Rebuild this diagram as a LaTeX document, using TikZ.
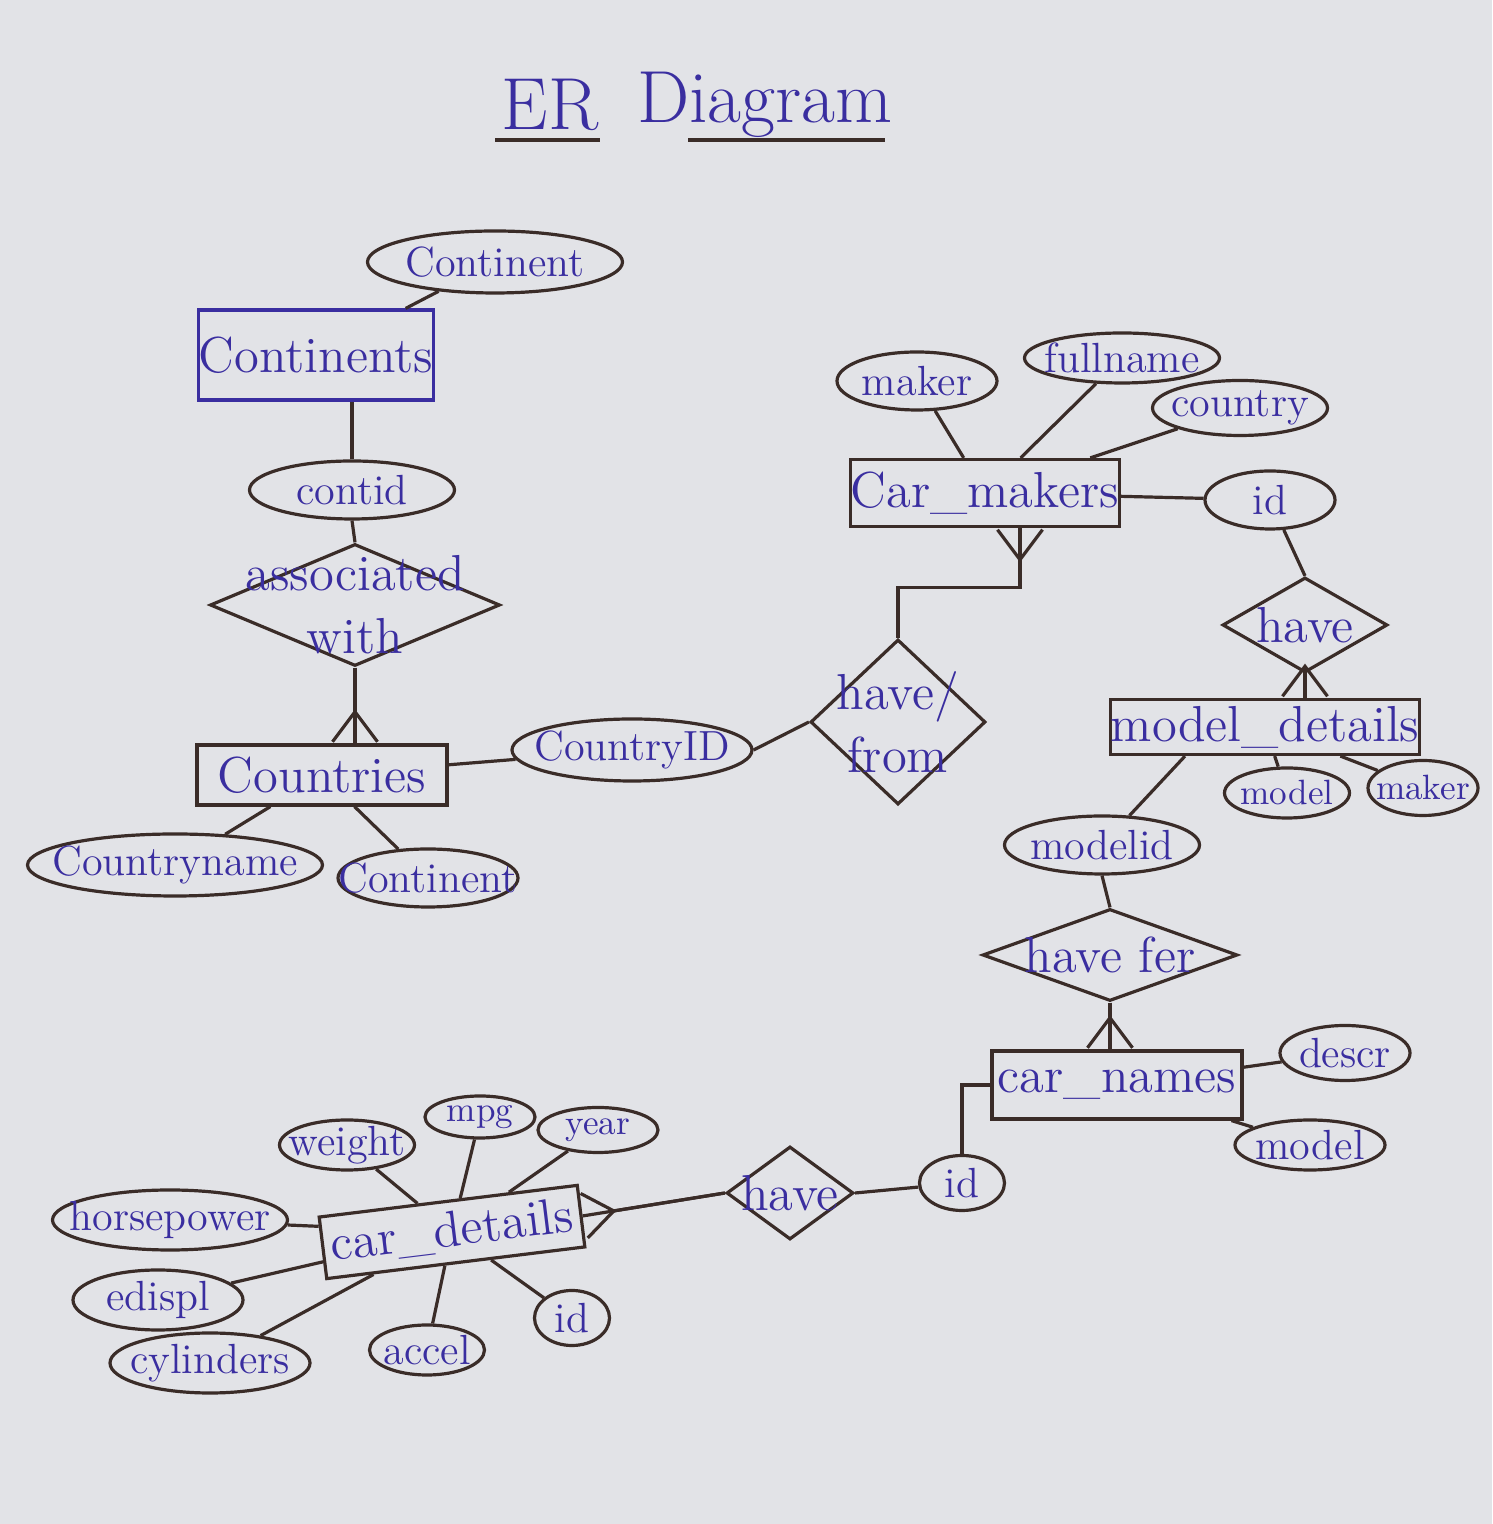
\documentclass[tikz,border=0pt]{standalone}
\usetikzlibrary{shapes.geometric,arrows.meta}
\definecolor{inkblue}{RGB}{58,46,160}
\definecolor{penline}{RGB}{58,44,40}
\definecolor{paper}{RGB}{226,227,231}
\begin{document}
\begin{tikzpicture}[
    dims/.style 2 args={minimum width=#1cm, minimum height=#2cm},
    every label/.style={text=inkblue, align=center},
    entity/.style={rectangle, draw=penline, line width=0.032cm, text=inkblue, inner sep=0pt},
    attrshape/.style={ellipse, draw=penline, line width=0.032cm, inner sep=0pt},
    attribute/.style={attrshape, label={[font=\large]center:#1}},
    smallattr/.style={attrshape, label={[font=\normalsize]center:#1}},
    relation/.style={diamond, draw=penline, line width=0.032cm, inner sep=0pt, label={center:#1}},
    link/.style={draw=penline, line width=0.032cm},
    many/.style={postaction={draw=penline, line width=0.032cm, -{Straight Barb[reversed, length=0.3cm, width=0.45cm]}}}
  ]
                    % Paper
                    \useasboundingbox (0,0) rectangle (14.92,15.24);
                    \fill [paper] (0,0) rectangle (14.92,15.24);%
                    {\Large

                    % Marking title
                    \node [text=inkblue, font=\fontsize{21}{25}\selectfont] (erword) at (5.50,14.19) {ER};%
                    \node [text=inkblue, font=\fontsize{21}{25}\selectfont] (diagword) at (7.65,14.19) {Diagram};%
                    \draw [link] (4.95,13.84) -- (6.00,13.84);%
                    \draw [link] (6.88,13.84) -- (8.85,13.84);%

                    % Drawing entity Continents
                    \node [entity, draw=inkblue, dims={2.32}{0.90}] (continents) at (3.16,11.69) {Continents};%
                    \node [attribute=Continent, dims={2.55}{0.62}] (contA) at (4.95,12.62) {};%
                    \node [attribute=contid, dims={2.05}{0.58}] (contid) at (3.52,10.34) {};%

                    % Drawing relation associated with
                    \node [relation={associated\\with}, dims={2.90}{1.22}] (assoc) at (3.55,9.19) {};%

                    % Drawing entity Countries
                    \node [entity, dims={2.50}{0.60}] (countries) at (3.22,7.49) {Countries};%
                    \node [attribute=Countryname, dims={2.95}{0.62}] (countryname) at (1.75,6.59) {};%
                    \node [attribute=Continent, dims={1.80}{0.58}] (contB) at (4.28,6.46) {};%
                    \node [attribute=CountryID, dims={2.40}{0.62}] (countryid) at (6.32,7.74) {};%

                    % Drawing relation have/from
                    \node [relation={have/\\from}, dims={1.75}{1.65}] (havefrom) at (8.98,8.02) {};%

                    % Drawing entity Car_makers
                    \node [entity, dims={2.62}{0.67}] (carmakers) at (9.85,10.31) {Car\_makers};%
                    \node [attribute=maker, dims={1.60}{0.58}] (makerA) at (9.17,11.43) {};%
                    \node [attribute=fullname, dims={1.95}{0.50}] (fullname) at (11.22,11.66) {};%
                    \node [attribute=country, dims={1.75}{0.55}] (country) at (12.40,11.16) {};%
                    \node [attribute=id, dims={1.30}{0.58}] (idA) at (12.70,10.24) {};%

                    % Drawing relation have
                    \node [relation=have, dims={1.65}{0.95}] (haveA) at (13.05,8.99) {};%

                    % Drawing entity model_details
                    \node [entity, dims={2.76}{0.55}] (modeldetails) at (12.65,7.97) {model\_details};%
                    \node [smallattr=model, dims={1.25}{0.50}] (modelA) at (12.87,7.31) {};%
                    \node [smallattr=maker, dims={1.10}{0.55}] (makerB) at (14.23,7.36) {};%
                    \node [attribute=modelid, dims={1.95}{0.58}] (modelid) at (11.02,6.79) {};%

                    % Drawing relation have fer
                    \node [relation={have fer}, dims={2.55}{0.92}] (havefor) at (11.10,5.69) {};%

                    % Drawing entity car_names
                    \node [entity, dims={2.50}{0.68}] (carnames) at (11.17,4.39) {car\_names};%
                    \node [attribute=descr, dims={1.30}{0.55}] (descr) at (13.45,4.71) {};%
                    \node [attribute=model, dims={1.50}{0.50}] (modelB) at (13.10,3.79) {};%
                    \node [attribute=id, dims={0.85}{0.55}] (idB) at (9.62,3.41) {};%

                    % Drawing relation have
                    \node [relation=have, dims={1.27}{0.93}] (haveB) at (7.90,3.31) {};%

                    % Drawing entity car_details
                    \node [entity, dims={2.60}{0.62}, rotate=7] (cardetails) at (4.52,2.92) {car\_details};%
                    \node [attribute=weight, dims={1.35}{0.50}] (weight) at (3.47,3.79) {};%
                    \node [smallattr=mpg, dims={1.10}{0.42}] (mpg) at (4.80,4.07) {};%
                    \node [smallattr=year, dims={1.20}{0.45}] (year) at (5.98,3.94) {};%
                    \node [attribute=horsepower, dims={2.35}{0.60}] (horsepower) at (1.70,3.04) {};%
                    \node [attribute=edispl, dims={1.70}{0.60}] (edispl) at (1.58,2.24) {};%
                    \node [attribute=cylinders, dims={2.00}{0.60}] (cylinders) at (2.10,1.61) {};%
                    \node [attribute=accel, dims={1.15}{0.50}] (accel) at (4.27,1.74) {};%
                    \node [attribute=id, dims={0.75}{0.55}] (idC) at (5.72,2.06) {};%

                    % Connecting Continents
                    \draw [link] (contA) -- (continents);%
                    \draw [link] (contid.north) -- (contid.north |- continents.south);%
                    \draw [link] (contid.south) -- (assoc.north);%
                    \draw [link, many] (assoc.south) -- (assoc.south |- countries.north);%

                    % Connecting Countries
                    \draw [link] (countries) -- (countryname);%
                    \draw [link] (countries) -- (contB);%
                    \draw [link] (countries) -- (countryid);%
                    \draw [link] (countryid.east) -- (havefrom.west);%
                    \draw [link, many] (havefrom.north) -- ++(0,0.5) -| ([xshift=0.35cm]carmakers.south);%

                    % Connecting Car_makers
                    \draw [link] (makerA) -- (carmakers);%
                    \draw [link] (fullname) -- (carmakers);%
                    \draw [link] (country) -- (carmakers);%
                    \draw [link] (carmakers) -- (idA);%
                    \draw [link] (idA) -- (haveA.north);%
                    \draw [link, many] (haveA.south) -- (haveA.south |- modeldetails.north);%

                    % Connecting model_details
                    \draw [link] (modeldetails) -- (modelA);%
                    \draw [link] (modeldetails) -- (makerB);%
                    \draw [link] ([xshift=-0.8cm]modeldetails.south) -- (modelid);%
                    \draw [link] (modelid.south) -- (havefor.north);%
                    \draw [link, many] (havefor.south) -- (havefor.south |- carnames.north);%

                    % Connecting car_names
                    \draw [link] (carnames) -- (descr);%
                    \draw [link] (carnames) -- (modelB);%
                    \draw [link] (carnames.west) -| (idB.north);%
                    \draw [link] (idB) -- (haveB.east);%
                    \draw [link, many] (haveB.west) -- (cardetails.east);%

                    % Connecting car_details
                    \draw [link] (cardetails) -- (weight);%
                    \draw [link] (cardetails) -- (mpg);%
                    \draw [link] (cardetails) -- (year);%
                    \draw [link] (cardetails) -- (horsepower);%
                    \draw [link] (cardetails) -- (edispl);%
                    \draw [link] (cardetails) -- (cylinders);%
                    \draw [link] (cardetails) -- (accel);%
                    \draw [link] (cardetails) -- (idC);%
                    }
\end{tikzpicture}
\end{document}
